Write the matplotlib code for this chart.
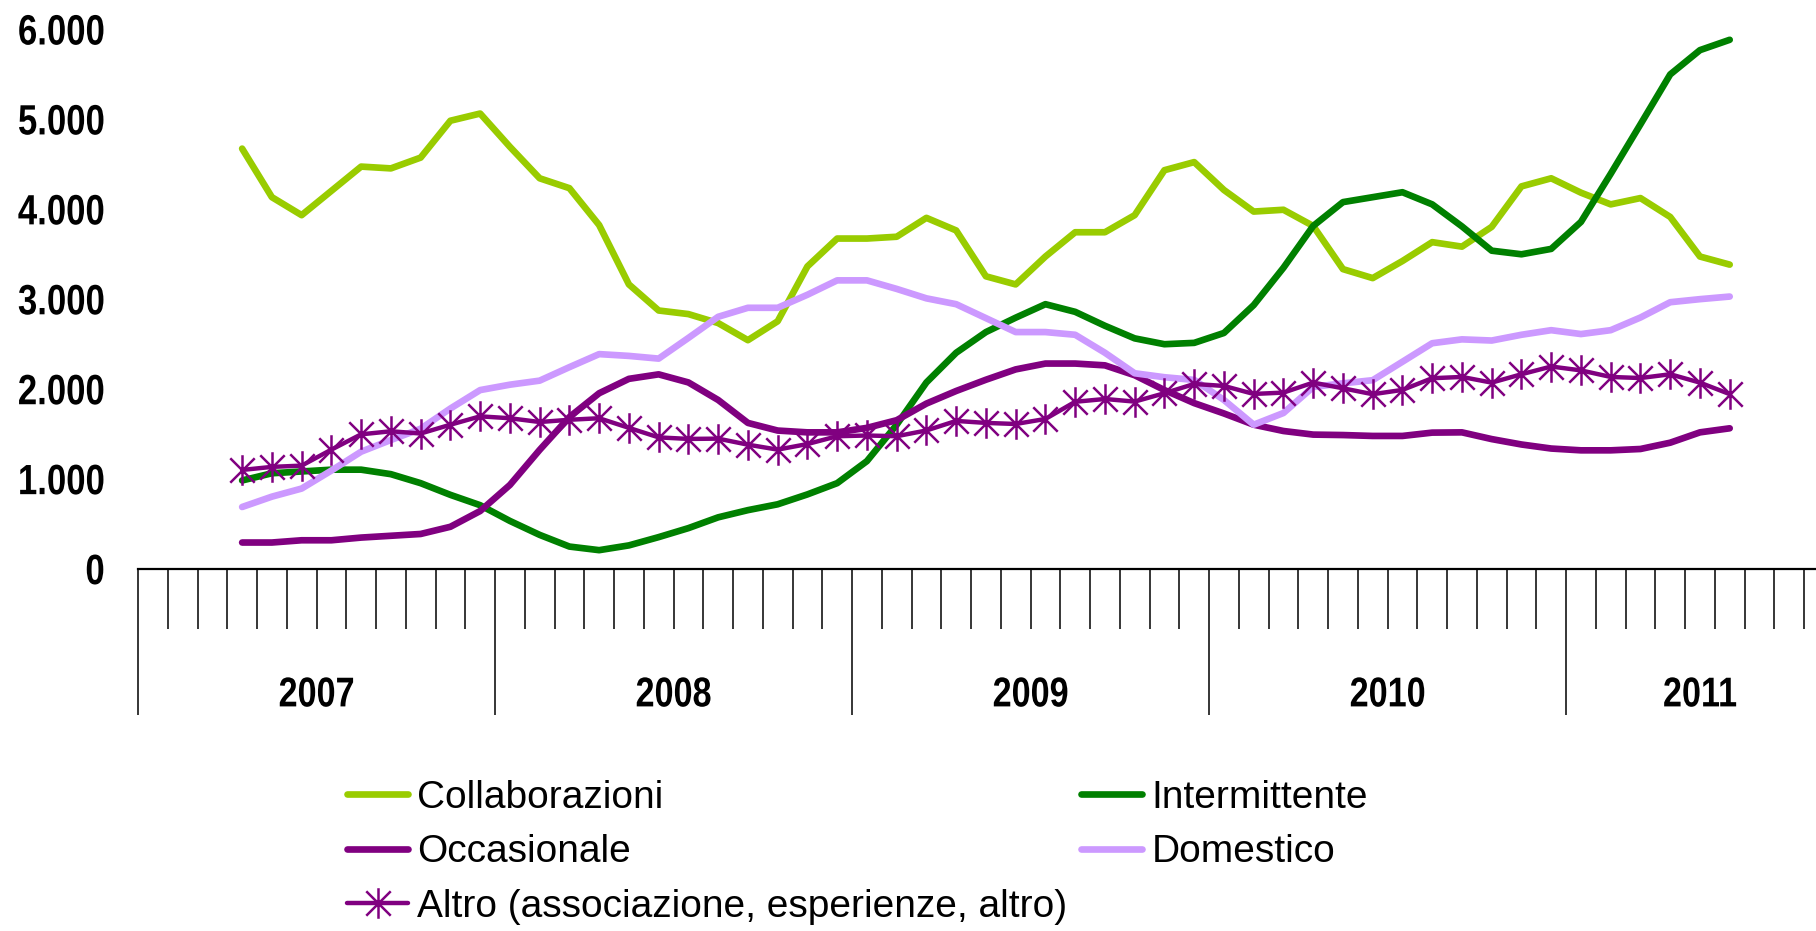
import matplotlib.pyplot as plt
import numpy as np
from matplotlib.path import Path
from matplotlib.patheffects import AbstractPathEffect
from matplotlib.transforms import Affine2D
from matplotlib.ticker import FuncFormatter, FixedLocator

# monthly series, April 2007 .. June 2011
collaborazioni = [4670, 4130, 3930, 4200, 4470, 4450, 4570, 4980, 5060,
                  4690, 4340, 4230, 3820, 3160, 2870, 2830, 2730, 2540, 2750, 3360, 3670, 3670,
                  3690, 3900, 3760, 3250, 3160, 3470, 3740, 3740, 3930, 4430, 4520, 4210,
                  3970, 3990, 3810, 3330, 3230, 3420, 3630, 3580, 3800, 4250, 4340, 4180,
                  4050, 4120, 3910, 3470, 3380]
intermittente = [980, 1060, 1080, 1100, 1100, 1050, 950, 820, 705,
                 530, 375, 245, 205, 258, 350, 450, 570, 650, 715, 825, 950,
                 1195, 1600, 2070, 2400, 2630, 2790, 2940, 2855, 2700, 2560, 2495, 2510,
                 2620, 2930, 3345, 3810, 4075, 4130, 4185, 4050, 3805, 3535, 3495, 3555,
                 3855, 4390, 4940, 5495, 5765, 5880]
occasionale = [290, 290, 315, 315, 345, 365, 385, 465, 640,
               930, 1320, 1685, 1950, 2110, 2160, 2070, 1875, 1620, 1535, 1515, 1515,
               1565, 1650, 1835, 1975, 2100, 2215, 2280, 2280, 2260, 2150, 1985, 1840,
               1725, 1600, 1530, 1490, 1485, 1475, 1475, 1512, 1515, 1440, 1380, 1335,
               1315, 1315, 1330, 1400, 1515, 1560]
domestico = [685, 800, 890, 1090, 1300, 1430, 1555, 1780, 1985,
             2045, 2090, 2240, 2385, 2365, 2335, 2565, 2800, 2900, 2900, 3045, 3205,
             3205, 3110, 3005, 2940, 2785, 2630, 2630, 2600, 2400, 2172, 2128, 2098,
             1875, 1600, 1730, 2020, 2060, 2095, 2300, 2506, 2549, 2536, 2600, 2651,
             2608, 2651, 2792, 2962, 2996, 3025]
altro = [1097, 1131, 1145, 1323, 1493, 1527, 1502, 1600, 1693,
         1672, 1630, 1655, 1672, 1565, 1459, 1442, 1445, 1378, 1323, 1385, 1472,
         1480, 1472, 1536, 1642, 1620, 1608, 1664, 1855, 1886, 1857, 1950, 2053,
         2031, 1942, 1957, 2068, 2005, 1939, 1987, 2117, 2131, 2068, 2161, 2247,
         2204, 2131, 2119, 2161, 2068, 1940]

years = ['2007', '2008', '2009', '2010', '2011']
months_per_year = [12, 12, 12, 12, 9]
first_month = 3  # April 2007


class Squash(AbstractPathEffect):
    # narrow the glyphs horizontally around x0 (display px), fakes a condensed font
    def __init__(self, sx, x0):
        super().__init__()
        self.sx = sx
        self.x0 = x0

    def draw_path(self, renderer, gc, tpath, affine, rgbFace=None):
        t = affine + Affine2D().translate(-self.x0, 0).scale(self.sx, 1).translate(self.x0, 0)
        renderer.draw_path(gc, tpath, t, rgbFace)


plt.rcParams['font.family'] = ['Liberation Sans', 'DejaVu Sans']

DPI = 100
fig = plt.figure(figsize=(18.16, 9.31), dpi=DPI)
ax = fig.add_axes([138 / 1816, 1 - 568.6 / 931, 1 - 138 / 1816, 539.6 / 931])

x = np.arange(len(collaborazioni)) + first_month + 0.5

lw = 4.8
style = dict(lw=lw, solid_joinstyle='round', solid_capstyle='round')
l1, = ax.plot(x, collaborazioni, color='#99CC00', **style)
l2, = ax.plot(x, intermittente, color='#008000', **style)
l3, = ax.plot(x, occasionale, color='#800080', **style)
l4, = ax.plot(x, domestico, color='#CC99FF', **style)

# asterisk marker: vertical bar plus an x
asterisk = Path([(0, -1), (0, 1), (-0.8, -0.8), (0.8, 0.8), (-0.8, 0.8), (0.8, -0.8)],
                [Path.MOVETO, Path.LINETO, Path.MOVETO, Path.LINETO, Path.MOVETO, Path.LINETO])
l5, = ax.plot(x, altro, color='#800080', lw=3.2, marker=asterisk, markersize=22,
              markeredgewidth=1.8, markeredgecolor='#800080',
              solid_joinstyle='round', solid_capstyle='round')

n_months = sum(months_per_year)
ax.set_xlim(0, 56.4)
ax.set_ylim(0, 6000)

for s in ['left', 'right', 'top']:
    ax.spines[s].set_visible(False)
ax.spines['bottom'].set_linewidth(1.6)

ypad = 24
ax.yaxis.set_major_locator(FixedLocator(np.arange(0, 6001, 1000)))
ax.yaxis.set_major_formatter(FuncFormatter(lambda v, p: f"{int(v):,}".replace(',', '.')))
ax.tick_params(axis='y', length=0, pad=ypad, labelsize=30.5)
label_right = 138 - ypad * DPI / 72
for t in ax.get_yticklabels():
    t.set_fontweight('bold')
    t.set_path_effects([Squash(0.82, label_right)])

bounds = np.cumsum([0] + months_per_year[:-1])
ax.xaxis.set_major_locator(FixedLocator(bounds))
ax.xaxis.set_minor_locator(FixedLocator([m for m in range(1, n_months + 1) if m not in bounds]))
ax.tick_params(axis='x', which='major', length=105, width=1.1, direction='out', labelbottom=False)
ax.tick_params(axis='x', which='minor', length=43, width=1.1, direction='out')

for b, n, yr in zip(bounds, months_per_year, years):
    xc = b + n / 2
    x0 = ax.transData.transform((xc, 0))[0]
    ax.text(xc, -0.235, yr, transform=ax.get_xaxis_transform(),
            ha='center', va='center', fontsize=30, fontweight='bold',
            path_effects=[Squash(0.82, x0)])

fs = 28
fig.legend([l1, l3, l5, l2, l4],
           ['Collaborazioni', 'Occasionale', 'Altro (associazione, esperienze, altro)',
            'Intermittente', 'Domestico'],
           ncol=2, loc='upper left', bbox_to_anchor=(347 / 1816, 1 - 780 / 931),
           frameon=False, fontsize=fs, borderpad=0, borderaxespad=0,
           handlelength=44 / fs, handletextpad=6.5 / fs, columnspacing=10 / fs,
           labelspacing=0.47)

fig.savefig('out.png', dpi=DPI)
